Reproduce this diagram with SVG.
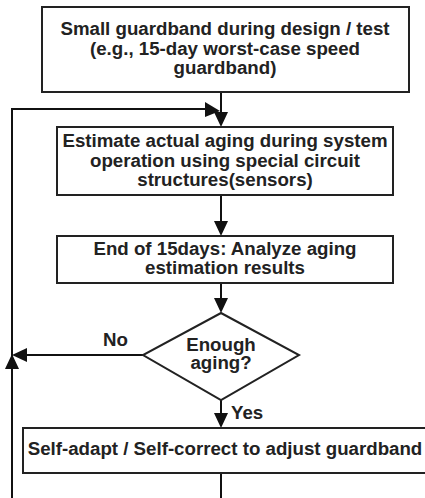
<svg xmlns="http://www.w3.org/2000/svg" width="425" height="498" viewBox="0 0 425 498">
<style>
.box{fill:#fff;stroke:#222;stroke-width:2}
.t{font-family:"Liberation Sans",Arial,sans-serif;font-weight:bold;font-size:18.7px;fill:#222;text-anchor:middle}
.l{font-family:"Liberation Sans",Arial,sans-serif;font-weight:bold;font-size:18.7px;fill:#222}
.c{fill:none;stroke:#111;stroke-width:2}
</style>
<defs>
<marker id="ah" markerWidth="8" markerHeight="8" refX="7" refY="4" orient="auto" markerUnits="userSpaceOnUse" viewBox="0 0 8 8">
<path d="M0,0 L8,4 L0,8 Z" fill="#111"/>
</marker>
</defs>
<rect width="425" height="498" fill="#fff"/>
<g id="connectors">
<path class="c" d="M221,92 V113"/>
<path d="M214,112 L228,112 L221,127 Z" fill="#111"/>
<path class="c" d="M12,498 V109 H206"/>
<path d="M205,102 L220,111 L205,117 Z" fill="#111"/>
<path class="c" d="M221,195 V222"/>
<path d="M214,221 L228,221 L221,236 Z" fill="#111"/>
<path class="c" d="M221,283 V299"/>
<path d="M214,298 L228,298 L221,313 Z" fill="#111"/>
<path class="c" d="M143,355 H26"/>
<path d="M27,348 L27,362 L12,355 Z" fill="#111"/>
<path d="M5,369 L19,369 L12,354 Z" fill="#111"/>
<path class="c" d="M221,400 V414"/>
<path d="M214,413 L228,413 L221,428 Z" fill="#111"/>
<path class="c" d="M221,473 V498"/>
<text class="l" x="103" y="346">No</text>
<text class="l" x="231" y="419">Yes</text>
</g>
<g id="n1">
<rect class="box" x="42" y="7" width="367" height="85"/>
<text class="t" x="225" y="35">Small guardband during design / test</text>
<text class="t" x="225" y="55">(e.g., 15-day worst-case speed</text>
<text class="t" x="225" y="74">guardband)</text>
</g>
<g id="n2">
<rect class="box" x="57" y="127" width="336" height="68"/>
<text class="t" x="225" y="147">Estimate actual aging during system</text>
<text class="t" x="225" y="167">operation using special circuit</text>
<text class="t" x="225" y="186">structures(sensors)</text>
</g>
<g id="n3">
<rect class="box" x="57" y="236" width="336" height="47"/>
<text class="t" x="225" y="255">End of 15days: Analyze aging</text>
<text class="t" x="225" y="274">estimation results</text>
</g>
<g id="n4">
<polygon class="box" points="221,313 299,355 221,400 143,355"/>
<text class="t" x="221" y="351">Enough</text>
<text class="t" x="221" y="369">aging?</text>
</g>
<g id="n5">
<rect class="box" x="23" y="428" width="410" height="45"/>
<text class="t" x="225" y="455">Self-adapt / Self-correct to adjust guardband</text>
</g>
</svg>
